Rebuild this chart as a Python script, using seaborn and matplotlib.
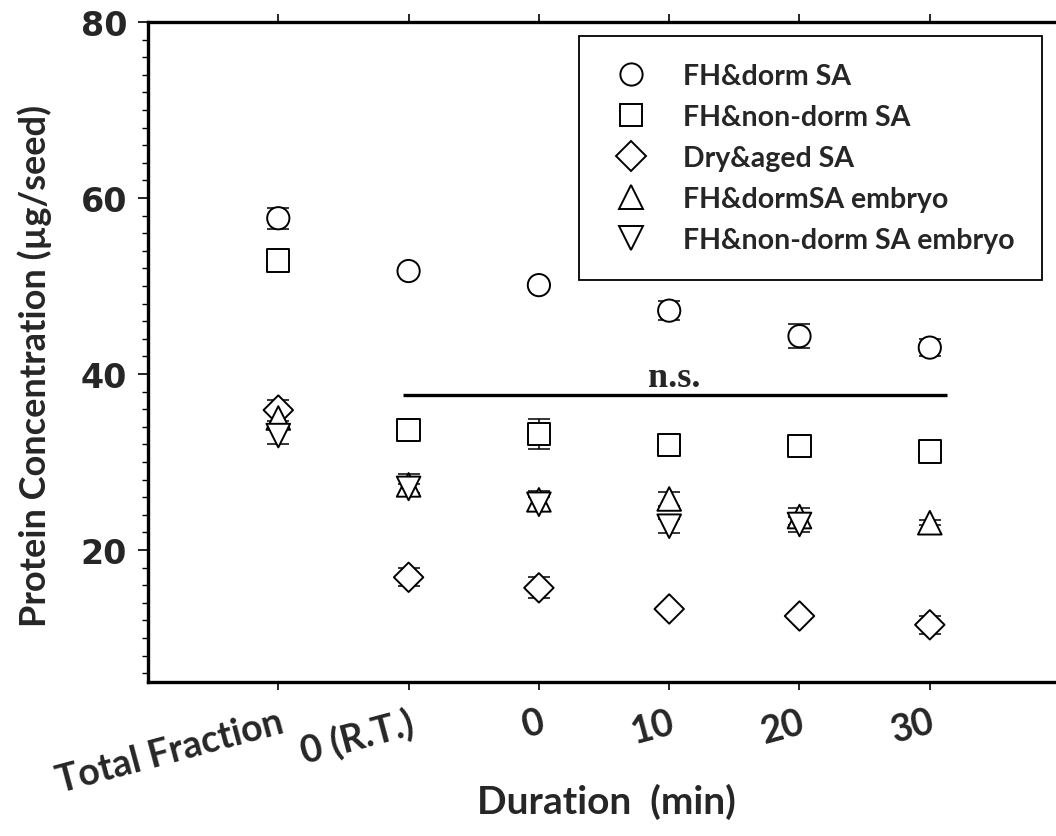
import numpy as np
import pandas as pd
import matplotlib
matplotlib.use("Agg")
import matplotlib.pyplot as plt
import seaborn as sns
from matplotlib.ticker import MultipleLocator, FixedLocator

# ---------------- data ----------------
categories = ["Total Fraction", "0 (R.T.)", "0", "10", "20", "30"]
series_names = ["FH&dorm SA", "FH&non-dorm SA", "Dry&aged SA",
                "FH&dormSA embryo", "FH&non-dorm SA embryo"]

fh_dorm = [57.7, 51.7, 50.1, 47.2, 44.3, 43.0]
fh_dorm_err = [1.2, 0.3, 0.3, 1.1, 1.4, 1.0]
fh_nondorm = [52.9, 33.6, 33.2, 31.9, 31.8, 31.2]
fh_nondorm_err = [0.4, 0.5, 1.7, 0.4, 0.4, 0.4]
dry_aged = [35.9, 16.9, 15.7, 13.3, 12.5, 11.5]
dry_aged_err = [1.2, 1.0, 1.2, 0.4, 0.4, 1.0]
embryo_dorm = [35.0, 27.4, 25.7, 25.8, 23.8, 23.1]
embryo_dorm_err = [1.0, 1.2, 1.0, 0.8, 1.0, 0.3]
embryo_nondorm = [33.0, 27.0, 25.2, 22.7, 22.9, np.nan]
embryo_nondorm_err = [0.9, 0.5, 0.8, 0.8, 0.8, np.nan]

ns_value = 37.6
ns_start, ns_end = 0.96, 5.13

values = [fh_dorm, fh_nondorm, dry_aged, embryo_dorm, embryo_nondorm]
errors = [fh_dorm_err, fh_nondorm_err, dry_aged_err, embryo_dorm_err, embryo_nondorm_err]

rows = []
for name, vals, errs in zip(series_names, values, errors):
    for i, (v, e) in enumerate(zip(vals, errs)):
        rows.append({"pos": i, "category": categories[i], "series": name,
                     "value": v, "err": e})
df = pd.DataFrame(rows)

# ---------------- style ----------------
sns.set_theme(style="white")
plt.rcParams["font.family"] = ["Lato", "DejaVu Sans"]
plt.rcParams["font.weight"] = "bold"

fig = plt.figure(figsize=(10.56, 8.37), dpi=100)
ax = fig.add_axes([148 / 1056, 1 - 683 / 837, 7 * 130.3 / 1056, 660 / 837])

markers = {"FH&dorm SA": "o", "FH&non-dorm SA": "s", "Dry&aged SA": "D",
           "FH&dormSA embryo": "^", "FH&non-dorm SA embryo": "v"}
sizes = {"FH&dorm SA": 16 ** 2, "FH&non-dorm SA": 16 ** 2, "Dry&aged SA": 15 ** 2,
         "FH&dormSA embryo": 17 ** 2, "FH&non-dorm SA embryo": 17 ** 2}

# error bars (behind markers)
for name in series_names:
    sub = df[df["series"] == name].dropna()
    ax.errorbar(sub["pos"], sub["value"], yerr=sub["err"], fmt="none",
                ecolor="black", elinewidth=1.1, capsize=8, capthick=1.1, zorder=1)

sns.scatterplot(data=df.dropna(), x="pos", y="value", style="series",
                markers=markers, size="series", sizes=sizes,
                hue="series", palette={n: "white" for n in series_names},
                edgecolor="black", linewidth=1.4, ax=ax, zorder=3,
                style_order=series_names, hue_order=series_names, size_order=series_names)

ax.set_xlim(-1, 6)
ax.set_ylim(5, 80)

ax.xaxis.set_major_locator(FixedLocator(range(len(categories))))
ax.set_xticklabels(categories, rotation=15, ha="right", va="top",
                   rotation_mode="anchor", fontsize=27, fontweight="bold")
ax.yaxis.set_major_locator(FixedLocator([20, 40, 60, 80]))
ax.yaxis.set_minor_locator(MultipleLocator(2))
for lab in ax.get_yticklabels():
    lab.set_fontfamily("DejaVu Sans")
    lab.set_fontweight("bold")
    lab.set_fontsize(24)

ax.tick_params(axis="x", which="major", direction="out", length=6, width=1.2,
               bottom=True, top=True, color="black", pad=10)
ax.tick_params(axis="y", which="major", direction="out", length=7, width=1.2,
               left=True, color="black", pad=8)
ax.tick_params(axis="y", which="minor", direction="out", length=4, width=1.0,
               left=True, color="black")

for side in ["left", "bottom", "top"]:
    ax.spines[side].set_visible(True)
    ax.spines[side].set_color("black")
    ax.spines[side].set_linewidth(2.4)
ax.spines["right"].set_visible(False)

ax.set_xlabel("Duration  (min)", fontsize=28, fontweight="bold")
ax.xaxis.set_label_coords(0.503, -0.152)
ax.set_ylabel("Protein Concentration (\u00b5g/seed)", fontsize=26, fontweight="bold")
ax.yaxis.set_label_coords(-0.105, 0.48)

# n.s. annotation
ax.hlines(ns_value, ns_start, ns_end, color="black", linewidth=2.4, zorder=2)
ax.text(3.04, ns_value + 1.0, "n.s.", ha="center", va="baseline",
        fontsize=26, fontweight="bold", family="Liberation Serif")

# legend
handles, labels = ax.get_legend_handles_labels()
if ax.get_legend():
    ax.get_legend().remove()
leg = fig.legend(handles, labels, loc="upper right",
                 bbox_to_anchor=(1042 / 1056, 1 - 37 / 837), borderaxespad=0,
                 frameon=True, fancybox=False, edgecolor="black",
                 prop={"family": "Lato", "weight": "bold", "size": 20.5},
                 borderpad=0.95, handlelength=1.7, handletextpad=1.0,
                 labelspacing=0.53, framealpha=1)
leg.get_frame().set_linewidth(1.3)
for h in leg.legend_handles:
    try:
        h.set_edgecolor("black")
        h.set_facecolor("white")
        h.set_linewidth(1.4)
    except Exception:
        pass

fig.savefig("out.png", dpi=100)
